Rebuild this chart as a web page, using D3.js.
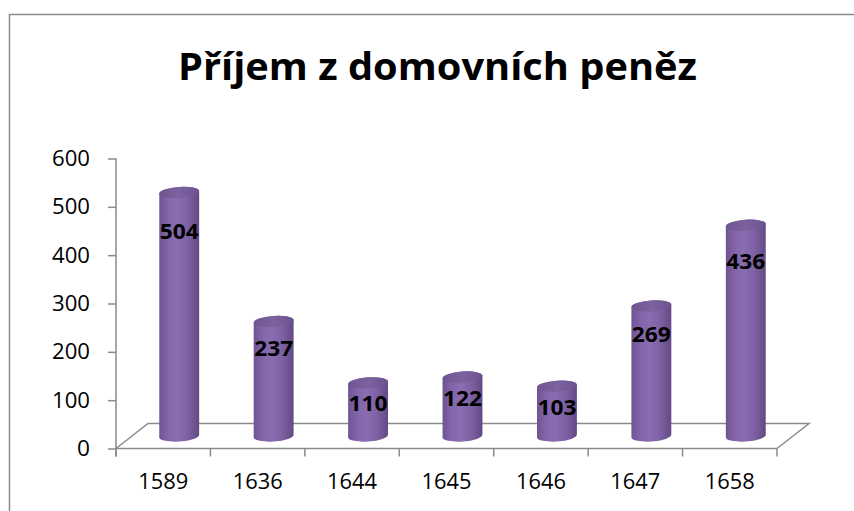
<!DOCTYPE html>
<html><head><meta charset="utf-8">
<script src="https://cdn.jsdelivr.net/npm/d3@7"></script>
<style>html,body{margin:0;padding:0;background:#fff;} svg{display:block}</style>
</head><body><svg id="chart" width="854" height="511"></svg>
<script>
const title = "Příjem z domovních peněz";
const categories = ["1589","1636","1644","1645","1646","1647","1658"];
const values = [504,237,110,122,103,269,436];
const yTicks = [0,100,200,300,400,500,600];

const svg = d3.select("#chart");
const font = "'Open Sans', Lato, 'Noto Sans', sans-serif";
const gray = "#8a8a8a";

// layout
const plot = {left:116, right:777, top:158.5, bottom:448.5};
const depth = {dx:32, dy:-25};
const rx = 20, ry = 5.5, tilt = -4;

const defs = svg.append("defs");
const grad = defs.append("linearGradient").attr("id","body").attr("x1","0").attr("x2","1").attr("y1","0").attr("y2","0");
[["0%","#6f5494"],["25%","#8467aa"],["45%","#8a6db1"],["70%","#7f62a4"],["100%","#634984"]]
  .forEach(([o,c])=>grad.append("stop").attr("offset",o).attr("stop-color",c));
const gradTop = defs.append("linearGradient").attr("id","top").attr("x1","0").attr("x2","1").attr("y1","0").attr("y2","0");
[["0%","#6e5590"],["50%","#7c629e"],["100%","#6c5390"]]
  .forEach(([o,c])=>gradTop.append("stop").attr("offset",o).attr("stop-color",c));

// border
svg.append("rect").attr("x",9.5).attr("y",14.5).attr("width",870).attr("height",540)
  .attr("fill","#fff").attr("stroke",gray).attr("stroke-width",1.5);

// title
svg.append("text").attr("x",437.5).attr("y",79.5).attr("text-anchor","middle")
  .attr("font-family",font).attr("font-weight","bold").attr("font-size",38)
  .attr("textLength",519).attr("lengthAdjust","spacingAndGlyphs")
  .attr("fill","#000").text(title);

// scales
const x = d3.scaleBand().domain(categories).range([plot.left, plot.right]).padding(0);
const y = d3.scaleLinear().domain([0,600]).range([plot.bottom, plot.top]);
const bw = x.bandwidth();

// floor
const f0 = y(0);
svg.append("path")
  .attr("d", `M${plot.left},${f0}L${plot.left+depth.dx},${f0+depth.dy}L${plot.right+depth.dx},${f0+depth.dy}L${plot.right},${f0}`)
  .attr("fill","none").attr("stroke",gray).attr("stroke-width",1.5);

// y axis
const yAxis = svg.append("g").attr("transform",`translate(${plot.left},0)`)
  .call(d3.axisLeft(y).tickValues(yTicks).tickSize(8).tickSizeOuter(0).tickPadding(18));
yAxis.select(".domain").remove();
yAxis.selectAll(".tick line").attr("stroke",gray).attr("stroke-width",1.5);
yAxis.selectAll("text").attr("font-family",font).attr("font-size",22).attr("fill","#000")
  .attr("textLength",38).attr("lengthAdjust","spacingAndGlyphs");
yAxis.selectAll("text").filter(d=>d===0).attr("textLength",13);
svg.append("line").attr("x1",plot.left).attr("x2",plot.left).attr("y1",plot.top).attr("y2",f0+8)
  .attr("stroke",gray).attr("stroke-width",1.5);

// x axis
svg.append("line").attr("x1",plot.left).attr("x2",plot.right).attr("y1",f0).attr("y2",f0)
  .attr("stroke",gray).attr("stroke-width",1.5);
const bounds = categories.map(c=>x(c)).concat([plot.right]);
svg.selectAll("line.xtick").data(bounds).enter().append("line").attr("class","xtick")
  .attr("x1",d=>d).attr("x2",d=>d).attr("y1",f0).attr("y2",f0+8)
  .attr("stroke",gray).attr("stroke-width",1.5);
const xAxis = svg.append("g").attr("transform",`translate(0,${f0})`)
  .call(d3.axisBottom(x).tickSize(0).tickPadding(25));
xAxis.select(".domain").remove();
xAxis.selectAll("text").attr("font-family",font).attr("font-size",22).attr("fill","#000")
  .attr("textLength",50).attr("lengthAdjust","spacingAndGlyphs");

// cylinders
const base = f0 + depth.dy/2;
const k = (y(0)-y(1));
const t = tilt*Math.PI/180;
const ox = rx*Math.cos(t), oy = -rx*Math.sin(t);
const data = categories.map((c,i)=>({c, v:values[i]}));
const g = svg.append("g");
data.forEach(d=>{
  const cx = x(d.c) + bw/2 + depth.dx/2;
  const top = base - d.v*k;
  const p = `M${cx-ox},${top+oy}L${cx-ox},${base+oy}A${rx},${ry} ${tilt} 0 0 ${cx+ox},${base-oy}L${cx+ox},${top-oy}A${rx},${ry} ${tilt} 0 0 ${cx-ox},${top+oy}Z`;
  g.append("path").attr("d",p).attr("fill","url(#body)");
  g.append("ellipse").attr("cx",cx).attr("cy",top).attr("rx",rx).attr("ry",ry)
    .attr("transform",`rotate(${tilt},${cx},${top})`).attr("fill","url(#top)");
  g.append("text").attr("x",cx).attr("y",top + 16 + 0.045*d.v).attr("dy","0.35em")
    .attr("text-anchor","middle").attr("font-family",font).attr("font-weight","bold")
    .attr("font-size",22).attr("fill","#000")
    .attr("textLength",39).attr("lengthAdjust","spacingAndGlyphs").text(d.v);
});
</script>
</body></html>
